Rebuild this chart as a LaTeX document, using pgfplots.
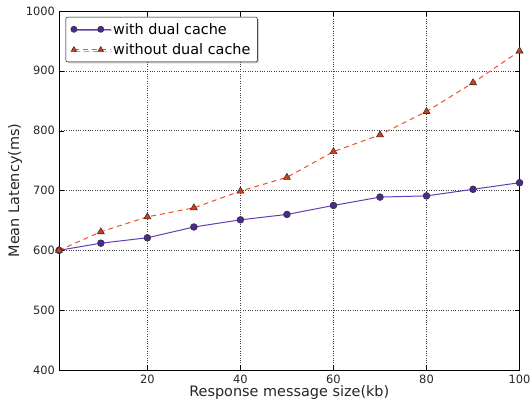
\documentclass[border=0pt]{standalone}
\usepackage{fontspec}
\setmainfont{DejaVu Sans}
\usepackage{pgfplots}
\pgfplotsset{compat=1.18}
\usetikzlibrary{shadows}
\definecolor{withc}{RGB}{75,40,150}
\definecolor{withl}{RGB}{100,60,180}
\definecolor{woc}{RGB}{220,60,20}
\definecolor{wol}{RGB}{240,80,40}
\begin{document}
\begin{tikzpicture}
\begin{axis}[
  scale only axis,
  width=463pt, height=361pt,
  xmin=1, xmax=100, ymin=400, ymax=1000,
  xtick={20,40,60,80,100},
  ytick={400,500,...,1000},
  grid=major,
  grid style={black!75, dotted, line width=0.5pt},
  tick align=inside,
  major tick length=5pt,
  tick style={black},
  axis line style={black, line width=0.8pt},
  /pgf/number format/assume math mode=true,
  /pgf/number format/1000 sep={},
  tick label style={font=\fontsize{11.5}{13}\selectfont, text=black!85},
  yticklabel style={xshift=-0.5pt},
  xticklabel style={yshift=-1pt},
  label style={font=\fontsize{14.5}{17}\selectfont, text=black!85},
  xlabel={Response message size(kb)},
  ylabel={Mean Latency(ms)},
  xlabel style={at={(axis description cs:0.5,0)}, anchor=base, yshift=-27pt},
  ylabel style={at={(axis description cs:0,0.5)}, anchor=base, yshift=40pt},
  legend style={at={(axis description cs:0,1)}, xshift=6.7pt, yshift=-6pt, anchor=north west,
    font=\fontsize{14.5}{17}\selectfont,
    draw=black, rounded corners=2pt, drop shadow={shadow xshift=1.5pt, shadow yshift=-1.5pt, opacity=0.4},
    row sep=4pt, inner xsep=5pt, inner ysep=4pt},
  legend cell align=left,
  legend image code/.code={
    \path (0pt,0pt) -- (37pt,0pt);
    \draw[mark size=3.1pt] plot coordinates {(0pt,0pt) (27pt,0pt)};},
]
\addplot[color=withl, line width=1pt, mark=*, mark size=3.4pt,
  mark options={fill=withc, draw=black!80, line width=0.6pt, solid}]
  coordinates {(1,600) (10,612) (20,621) (30,639) (40,651) (50,660) (60,675) (70,689) (80,691) (90,702) (100,713)};
\addlegendentry{with dual cache}
\addplot[color=wol, line width=1pt, dash pattern=on 5pt off 4pt, mark=triangle*, mark size=4pt,
  mark options={fill=woc, draw=black!80, line width=0.6pt, solid}]
  coordinates {(1,600) (10,631) (20,656) (30,671) (40,699) (50,722) (60,765) (70,793) (80,832) (90,880) (100,933)};
\addlegendentry{without dual cache}
\end{axis}
\pgfresetboundingbox
\path ([xshift=-59.3pt,yshift=-33.7pt]current axis.south west) rectangle ([xshift=11.5pt,yshift=11pt]current axis.north east);
\end{tikzpicture}
\end{document}
